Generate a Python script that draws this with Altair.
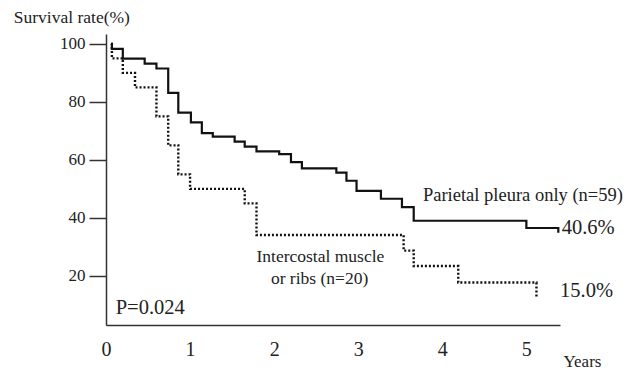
import altair as alt
import pandas as pd

# Parietal pleura only (n=59) - Kaplan-Meier steps (years, survival %)
solid_t = [0.06, 0.07, 0.20, 0.46, 0.60, 0.74, 0.86, 1.01, 1.14, 1.27, 1.53, 1.65, 1.79,
           2.06, 2.20, 2.33, 2.74, 2.86, 2.98, 3.27, 3.52, 3.66, 5.00, 5.38]
solid_v = [100, 98.3, 94.9, 93.2, 91.5, 83.1, 76.3, 72.9, 69.2, 68.0, 66.3, 64.6, 62.9,
           62.0, 59.2, 57.1, 55.6, 52.8, 49.3, 46.6, 43.7, 39.0, 36.5, 34.9]

# Intercostal muscle or ribs (n=20)
dot_t = [0.06, 0.07, 0.20, 0.345, 0.60, 0.74, 0.86, 1.00, 1.65, 1.79, 3.54, 3.66, 4.19, 5.12]
dot_v = [100, 95, 90, 85, 75, 65, 55, 50, 45, 34.1, 28.7, 23.4, 17.7, 12.7]

x_ticks = [0, 1, 2, 3, 4, 5]
y_ticks = [20, 40, 60, 80, 100]

ann_text = ["Parietal pleura only (n=59)", "40.6%", "15.0%", "P=0.024"]
ann_t = [3.77, 5.42, 5.40, 0.115]
ann_v = [47.9, 36.5, 14.8, 8.9]
ann_size = [18.5, 20.5, 20.5, 20.5]

ic_text = ["Intercostal muscle", "or ribs (n=20)"]
ic_t = [2.55, 2.54]
ic_v = [26.5, 18.9]

FONT = "Liberation Serif, Times New Roman, Times, serif"

curves = pd.DataFrame(
    {"t": solid_t + dot_t,
     "v": solid_v + dot_v,
     "series": ["solid"] * len(solid_t) + ["dotted"] * len(dot_t),
     "i": list(range(len(solid_t))) + list(range(len(dot_t)))}
)
ann = pd.DataFrame({"text": ann_text, "t": ann_t, "v": ann_v, "size": ann_size})
ic = pd.DataFrame({"text": ic_text, "t": ic_t, "v": ic_v})

xscale = alt.Scale(domain=[0, 5.4], nice=False, zero=False)
yscale = alt.Scale(domain=[3.06, 103.4], nice=False, zero=False)

xaxis = alt.Axis(values=x_ticks, format="d", ticks=False, labelPadding=14, labelFontSize=20,
                 labelFont=FONT, labelColor="#222", domainColor="#333", domainWidth=1.5,
                 grid=False, title="Years", titleFont=FONT, titleFontSize=17,
                 titleFontWeight="normal", titleColor="#222", titleAlign="left",
                 titleBaseline="alphabetic", titleX=457, titleY=41, labelFlush=False)
yaxis = alt.Axis(values=y_ticks, format="d", tickSize=17, tickWidth=1.5, tickColor="#333",
                 labelPadding=4, labelFontSize=17, labelFont=FONT, labelColor="#222",
                 domainColor="#333", domainWidth=1.5, grid=False,
                 title="Survival rate(%)", titleFont=FONT, titleFontSize=17.5,
                 titleFontWeight="normal", titleColor="#222", titleAngle=0,
                 titleAlign="left", titleBaseline="alphabetic", titleX=-92.7, titleY=-12)

base = alt.Chart(curves).encode(
    x=alt.X("t:Q", scale=xscale, axis=xaxis),
    y=alt.Y("v:Q", scale=yscale, axis=yaxis),
    order="i:Q",
)

solid = base.transform_filter(alt.datum.series == "solid").mark_line(
    interpolate="step-after", color="#111", strokeWidth=2.2
)
dotted = base.transform_filter(alt.datum.series == "dotted").mark_line(
    interpolate="step-after", color="#111", strokeWidth=2.4, strokeDash=[2, 2]
)

ann_layer = alt.Chart(ann).mark_text(
    font=FONT, align="left", baseline="middle", color="#222"
).encode(
    x=alt.X("t:Q", scale=xscale),
    y=alt.Y("v:Q", scale=yscale),
    text="text:N",
    size=alt.Size("size:Q", scale=None, legend=None),
)

ic_layer = alt.Chart(ic).mark_text(
    font=FONT, align="center", baseline="middle", color="#222", fontSize=17.5
).encode(
    x=alt.X("t:Q", scale=xscale),
    y=alt.Y("v:Q", scale=yscale),
    text="text:N",
)

chart = alt.layer(solid, dotted, ann_layer, ic_layer).properties(
    width=454,
    height=291,
    autosize=alt.AutoSizeParams(type="none"),
    padding={"left": 98, "top": 26, "right": 64, "bottom": 45},
    background="white",
).configure_view(stroke=None)

chart.save("out.html", embed_options={"renderer": "svg", "actions": False})
